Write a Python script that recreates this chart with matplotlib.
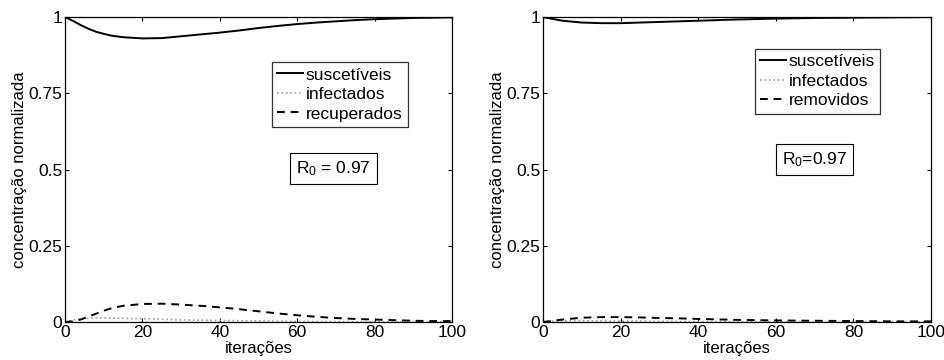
import numpy as np
import matplotlib
matplotlib.use('Agg')
import matplotlib.pyplot as plt

plt.rcParams['font.family'] = ['Liberation Sans', 'DejaVu Sans']
plt.rcParams['mathtext.fontset'] = 'custom'
plt.rcParams['mathtext.rm'] = 'Liberation Sans'
plt.rcParams['mathtext.it'] = 'Liberation Sans'

# painel esquerdo (suscetiveis / infectados / recuperados)
x_left = [0, 2, 4, 6, 8, 10, 12, 15, 20, 25, 30, 35, 40, 45, 50, 55, 60, 65, 70, 75, 80, 85, 90, 95, 100]
s_left = [1.0, 0.988, 0.974, 0.962, 0.952, 0.945, 0.939, 0.934, 0.93, 0.931, 0.937, 0.943, 0.949, 0.956,
          0.964, 0.971, 0.977, 0.982, 0.986, 0.99, 0.993, 0.995, 0.997, 0.998, 0.999]
i_left = [0.0, 0.006, 0.01, 0.012, 0.013, 0.013, 0.0125, 0.012, 0.011, 0.009, 0.007, 0.006, 0.005, 0.004,
          0.003, 0.0025, 0.002, 0.0015, 0.001, 0.0008, 0.0005, 0.0003, 0.0002, 0.0001, 0.0]
r_left = [0.0, 0.002, 0.008, 0.017, 0.027, 0.037, 0.045, 0.053, 0.059, 0.06, 0.057, 0.053, 0.048, 0.042,
          0.035, 0.028, 0.022, 0.017, 0.013, 0.01, 0.008, 0.006, 0.004, 0.003, 0.003]

# painel direito (suscetiveis / infectados / removidos)
x_right = [0, 2, 5, 10, 15, 20, 25, 30, 35, 40, 50, 60, 70, 80, 90, 100]
s_right = [1.0, 0.995, 0.988, 0.982, 0.98, 0.98, 0.982, 0.984, 0.986, 0.988, 0.992, 0.995, 0.997, 0.998, 0.999, 1.0]
i_right = [0.0, 0.003, 0.004, 0.004, 0.003, 0.003, 0.0025, 0.002, 0.0015, 0.001, 0.0008, 0.0005, 0.0003, 0.0002, 0.0001, 0.0]
r_right = [0.0, 0.003, 0.008, 0.014, 0.016, 0.016, 0.015, 0.013, 0.012, 0.01, 0.007, 0.005, 0.004, 0.003, 0.002, 0.002]

labels_left = ['suscetíveis', 'infectados', 'recuperados']
labels_right = ['suscetíveis', 'infectados', 'removidos']
xticks = [0, 20, 40, 60, 80, 100]
yticks = [0, 0.25, 0.5, 0.75, 1]
yticklabels = ['0', '0.25', '0.5', '0.75', '1']

fig = plt.figure(figsize=(9.45, 3.6), dpi=100)
ax1 = fig.add_axes([0.0688, 0.1056, 0.4095, 0.847])
ax2 = fig.add_axes([0.5746, 0.1056, 0.4106, 0.847])


def draw(ax, x, s, i, r, labels, r0_text, leg_box, r0_pos):
    ax.plot(x, s, color='black', lw=1.4, label=labels[0])
    ax.plot(x, i, color='#a0a0a0', lw=1.2, ls=':', label=labels[1])
    ax.plot(x, r, color='black', lw=1.4, ls=(0, (4, 3)), label=labels[2])
    ax.set_xlim(0, 100)
    ax.set_ylim(0, 1)
    ax.set_xticks(xticks)
    ax.set_yticks(yticks)
    ax.set_yticklabels(yticklabels)
    ax.tick_params(direction='in', top=True, right=True, labelsize=12.5, length=3, pad=2)
    ax.set_xlabel('iterações', fontsize=12, labelpad=1)
    ax.set_ylabel('concentração normalizada', fontsize=12, labelpad=1)
    for sp in ax.spines.values():
        sp.set_linewidth(0.9)
    leg = ax.legend(loc='upper left', bbox_to_anchor=leg_box, fontsize=12.5, frameon=True,
                    fancybox=False, edgecolor='black', handlelength=1.5, handletextpad=0.15,
                    borderpad=0.3, labelspacing=0.25, borderaxespad=0)
    leg.get_frame().set_linewidth(0.9)
    ax.text(r0_pos[0], r0_pos[1], r0_text, transform=ax.transAxes, fontsize=12.5,
            ha='center', va='center',
            bbox=dict(boxstyle='square,pad=0.35', fc='white', ec='black', lw=0.8))


draw(ax1, x_left, s_left, i_left, r_left, labels_left, 'R$_0$ = 0.97', (0.535, 0.852), (0.693, 0.503))
draw(ax2, x_right, s_right, i_right, r_right, labels_right, 'R$_0$=0.97', (0.546, 0.895), (0.70, 0.533))

fig.savefig('out.png', dpi=100)
